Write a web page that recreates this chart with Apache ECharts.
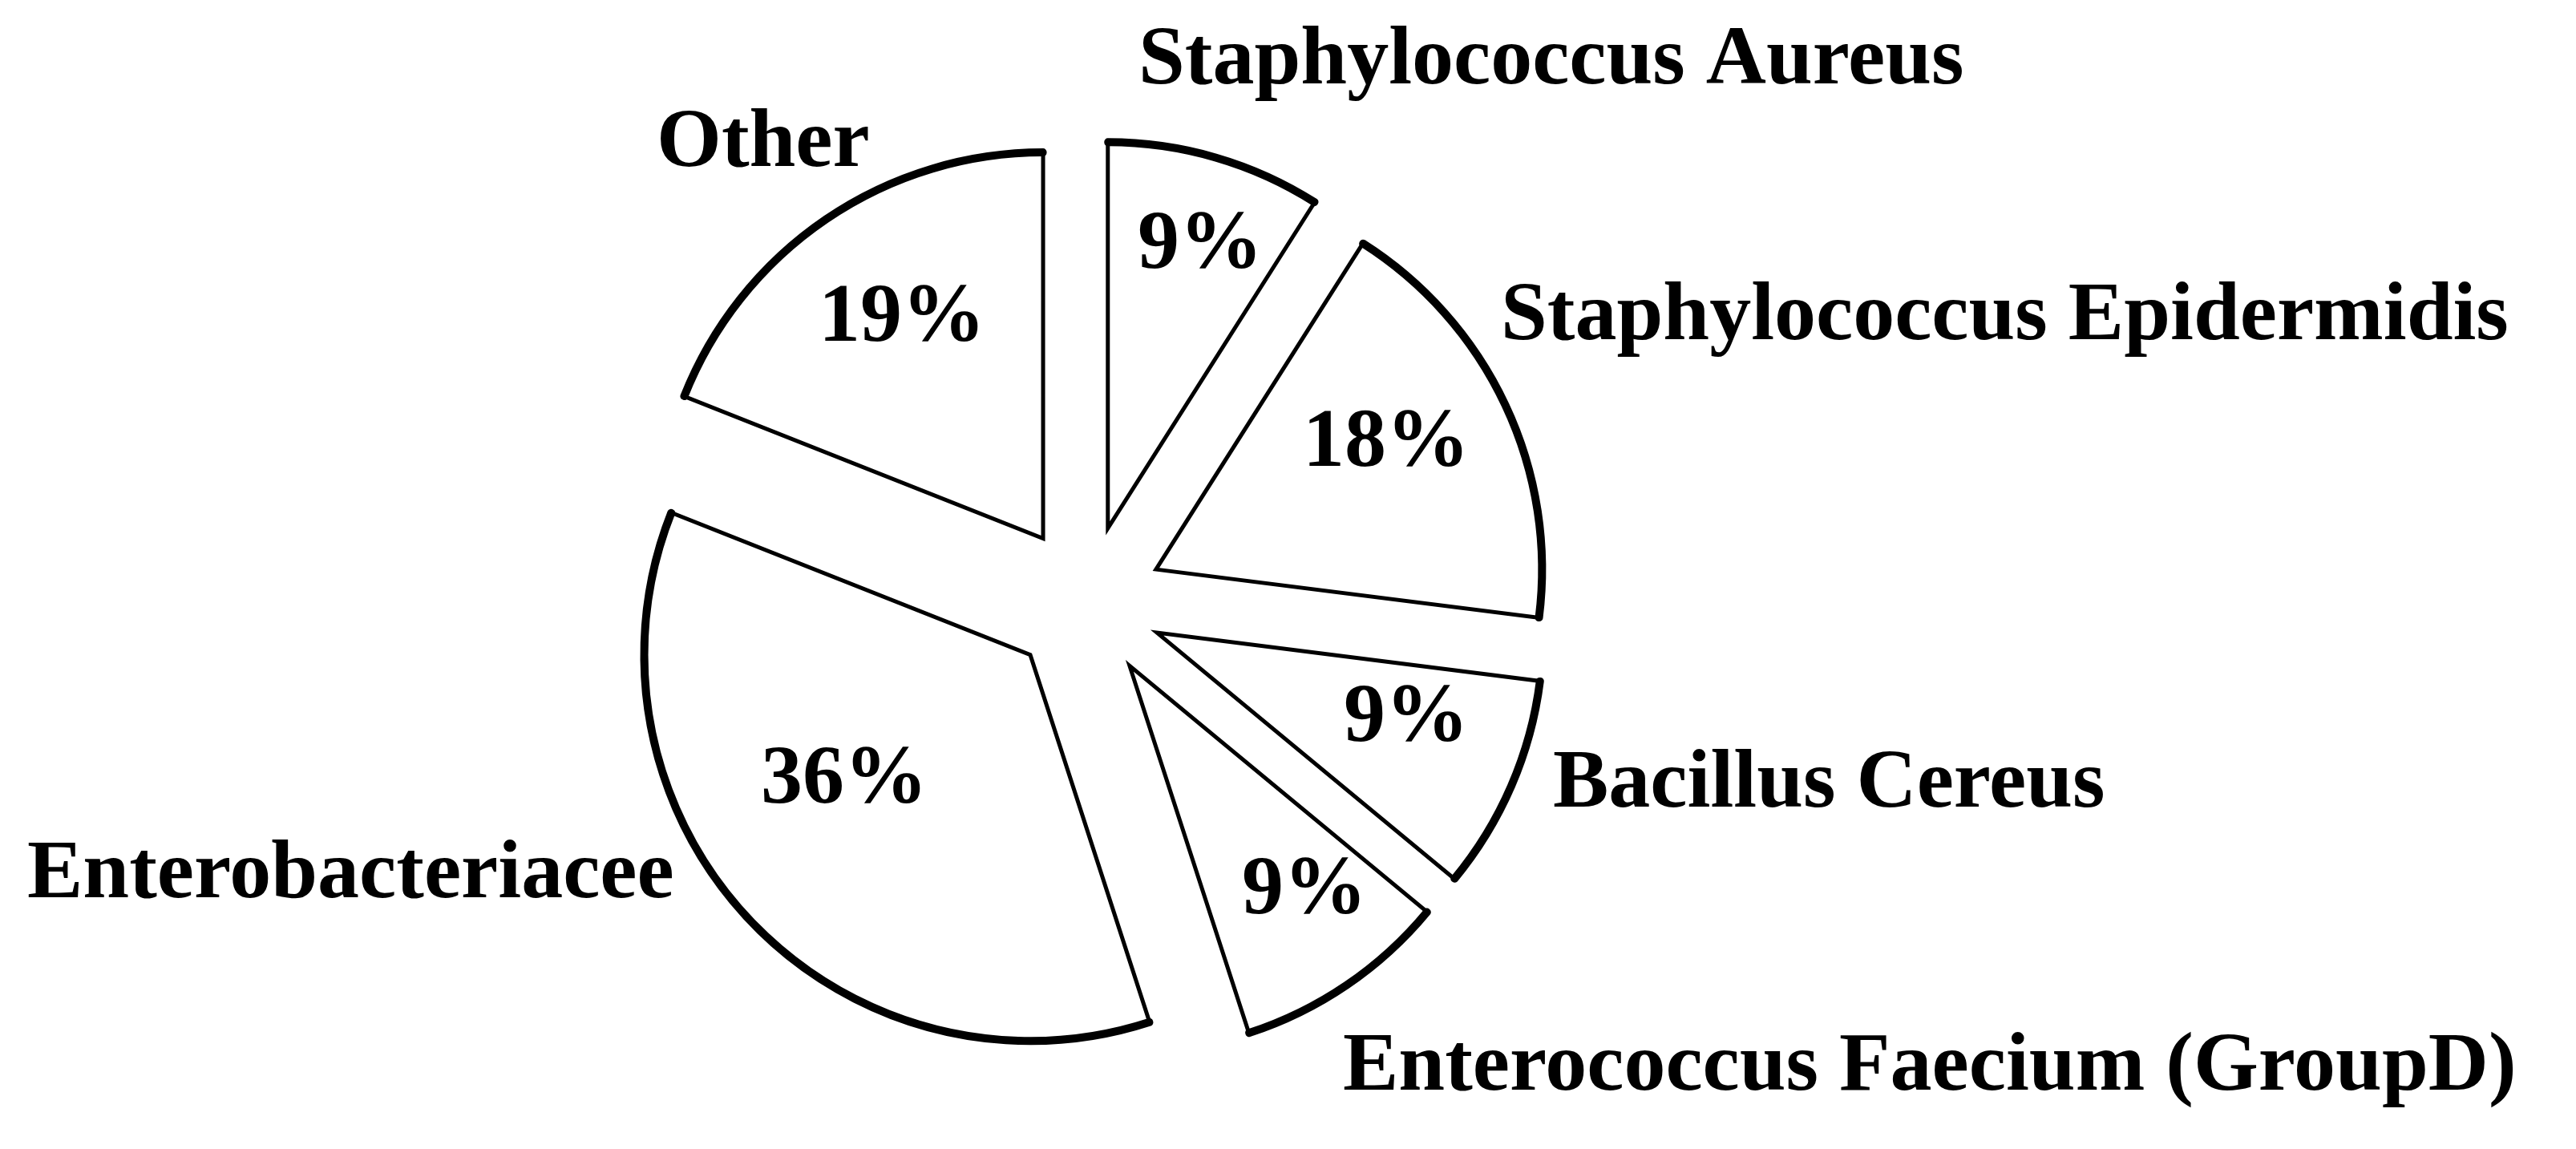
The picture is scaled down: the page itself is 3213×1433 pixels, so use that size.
<!DOCTYPE html>
<html>
<head>
<meta charset="utf-8">
<script src="https://cdn.jsdelivr.net/npm/echarts@6/dist/echarts.min.js"></script>
<style>
html,body{margin:0;padding:0;background:#fff;}
#chart{width:3213px;height:1433px;}
</style>
</head>
<body>
<div id="chart"></div>
<script>
// ---- data ----
const categories = [
  'Staphylococcus Aureus',
  'Staphylococcus Epidermidis',
  'Bacillus Cereus',
  'Enterococcus Faecium (GroupD)',
  'Enterobacteriacee',
  'Other'
];
const values = [9, 18, 9, 9, 36, 19];

// ---- layout (pixel positions of text, not data) ----
const CENTER = [1355, 751];
const R = 482;
const OFFSET = 96;
const nameLabelPos = [
  [1420, 77], [1872, 396], [1937, 979], [1675, 1332], [34, 1092], [819, 180]
];
const pctLabelPos = [
  [1497, 307], [1729, 554], [1754, 897], [1627, 1112], [1053, 974], [1125, 398]
];

const textStyle = {
  fontFamily: '"Liberation Serif", "Times New Roman", serif',
  fontWeight: 'bold',
  fontSize: 104,
  color: '#000'
};

function makeData(sel) {
  return categories.map((n, i) => ({ name: n, value: values[i], selected: sel }));
}

const common = {
  type: 'pie',
  center: CENTER,
  startAngle: 90,
  clockwise: true,
  avoidLabelOverlap: false,
  percentPrecision: 0,
  silent: true,
  emphasis: { disabled: true },
  labelLine: { show: false }
};

const chart = echarts.init(document.getElementById('chart'), null, { renderer: 'canvas' });
chart.setOption({
  animation: false,
  backgroundColor: '#fff',
  series: [
    Object.assign({}, common, {
      radius: [0, R],
      selectedMode: 'multiple',
      selectedOffset: OFFSET,
      itemStyle: { color: '#fff', borderColor: '#000', borderWidth: 5, borderJoin: 'miter' },
      select: { itemStyle: { color: '#fff', borderColor: '#000', borderWidth: 5 } },
      label: { show: false },
      data: makeData(true)
    }),
    Object.assign({}, common, {
      radius: [R - 1, R],
      selectedMode: 'multiple',
      selectedOffset: OFFSET,
      z: 3,
      itemStyle: { color: 'rgba(0,0,0,0)', borderColor: '#000', borderWidth: 9, borderJoin: 'round', borderCap: 'round' },
      select: { itemStyle: { color: 'rgba(0,0,0,0)', borderColor: '#000', borderWidth: 9 } },
      label: { show: false },
      data: makeData(true)
    }),
    Object.assign({}, common, {
      radius: [0, R],
      selectedMode: false,
      z: 4,
      itemStyle: { color: 'rgba(0,0,0,0)', borderWidth: 0 },
      label: Object.assign({ show: true, position: 'inside', formatter: '{d}%' }, textStyle),
      labelLayout: function (p) {
        const q = pctLabelPos[p.dataIndex];
        return { x: q[0], y: q[1], align: 'center', verticalAlign: 'middle' };
      },
      data: makeData(false)
    }),
    Object.assign({}, common, {
      radius: [0, R],
      selectedMode: false,
      z: 4,
      itemStyle: { color: 'rgba(0,0,0,0)', borderWidth: 0 },
      label: Object.assign({ show: true, position: 'outside', formatter: '{b}' }, textStyle),
      labelLayout: function (p) {
        const q = nameLabelPos[p.dataIndex];
        return { x: q[0], y: q[1], align: 'left', verticalAlign: 'middle' };
      },
      data: makeData(false)
    })
  ]
});
</script>
</body>
</html>
